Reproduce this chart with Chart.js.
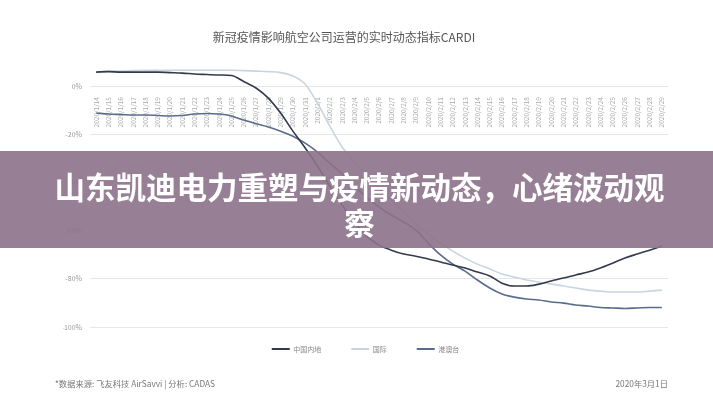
<!DOCTYPE html>
<html>
<head>
<meta charset="utf-8">
<script src="https://cdn.jsdelivr.net/npm/chart.js@4.4.1/dist/chart.umd.min.js"></script>
<style>
  html, body { margin: 0; padding: 0; background: #fff; }
  #wrap { position: relative; width: 713px; height: 400px; overflow: hidden;
          font-family: "Noto Sans CJK SC", "Noto Sans", sans-serif; }
  #chart { position: absolute; left: 0; top: 0; }
  .title { position: absolute; top: 28px; left: 0; width: 688px; text-align: center;
           font-size: 12px; color: #555; }
  .source { position: absolute; top: 377px; left: 55px; font-size: 8.3px; color: #777; }
  .date { position: absolute; top: 377px; right: 45px; font-size: 8.3px; color: #777; }
  .banner { position: absolute; left: 0; top: 151px; width: 713px; height: 97px;
            background: rgba(140, 114, 138, 0.9); }
  .banner div { position: absolute; left: 52px; right: 46px; top: 17px; text-align: center;
                color: #fff; font-size: 30.5px; line-height: 36px; font-weight: 700; }
</style>
</head>
<body>
<div id="wrap">
  <canvas id="chart" width="713" height="400"></canvas>
  <div class="title">新冠疫情影响航空公司运营的实时动态指标CARDI</div>
  <div class="source">*数据来源: 飞友科技 AirSavvi | 分析: CADAS</div>
  <div class="date">2020年3月1日</div>
  <div class="banner"><div>山东凯迪电力重塑与疫情新动态，心绪波动观察</div></div>
</div>
<script>
const dates = [
  '2020/1/14', '2020/1/15', '2020/1/16', '2020/1/17', '2020/1/18', '2020/1/19', '2020/1/20',
  '2020/1/21', '2020/1/22', '2020/1/23', '2020/1/24', '2020/1/25', '2020/1/26', '2020/1/27',
  '2020/1/28', '2020/1/29', '2020/1/30', '2020/1/31', '2020/2/1', '2020/2/2', '2020/2/3',
  '2020/2/4', '2020/2/5', '2020/2/6', '2020/2/7', '2020/2/8', '2020/2/9', '2020/2/10',
  '2020/2/11', '2020/2/12', '2020/2/13', '2020/2/14', '2020/2/15', '2020/2/16', '2020/2/17',
  '2020/2/18', '2020/2/19', '2020/2/20', '2020/2/21', '2020/2/22', '2020/2/23', '2020/2/24',
  '2020/2/25', '2020/2/26', '2020/2/27', '2020/2/28', '2020/2/29'
];

// 中国内地
const mainland = [5.8, 6.0, 5.8, 5.8, 5.8, 5.8, 5.6, 5.4, 5.0, 4.8, 4.6, 4.4, 1.9, -0.8, -5.0,
  -11.2, -18.7, -25.7, -33.2, -41.5, -49.4, -56.4, -62.3, -66.0, -68.1, -69.7, -70.6, -71.8,
  -73.0, -74.3, -75.5, -77.2, -78.8, -81.8, -83.0, -83.0, -82.2, -80.9, -79.7, -78.4, -77.2,
  -75.5, -73.5, -71.4, -69.7, -68.1, -66.4];
// 国际
const international = [5.8, 6.2, 6.2, 6.4, 6.6, 6.6, 6.6, 6.6, 6.6, 6.6, 6.6, 6.6, 6.4, 6.2, 6.0,
  5.6, 4.2, 0.8, -7.1, -16.6, -25.3, -31.5, -36.9, -42.3, -47.3, -52.3, -57.3, -61.4, -65.2,
  -68.5, -71.4, -73.9, -75.9, -78.0, -79.3, -80.5, -81.3, -82.2, -83.0, -83.8, -84.7, -85.1,
  -85.5, -85.5, -85.5, -85.1, -84.7];
// 港澳台
const hkMacauTw = [-11.2, -11.6, -11.8, -12.0, -12.0, -12.2, -12.4, -12.2, -11.6, -11.4, -11.6,
  -12.4, -14.1, -15.6, -17.0, -18.7, -20.8, -23.7, -27.4, -32.0, -36.5, -41.5, -46.1, -50.2,
  -53.5, -56.4, -59.8, -65.2, -70.1, -73.9, -76.8, -80.5, -83.8, -86.3, -87.6, -88.4, -88.8,
  -89.6, -90.1, -90.9, -91.3, -91.9, -92.1, -92.3, -92.1, -91.9, -91.9];

const yTicks = [0, -20, -40, -60, -80, -100];

Chart.defaults.font.family = "'Noto Sans CJK SC', 'Noto Sans', sans-serif";

// pull the legend up a bit, its vertical padding is the same as the item gap
const legendShift = {
  id: 'legendShift',
  afterLayout(chart) {
    chart.legend.top -= 11.5;
    chart.legend.bottom -= 11.5;
  }
};

function line(label, data, color) {
  return {
    label: label,
    data: data,
    borderColor: color,
    backgroundColor: color,
    borderWidth: 1.6,
    pointRadius: 0,
    cubicInterpolationMode: 'monotone'
  };
}

new Chart(document.getElementById('chart'), {
  type: 'line',
  data: {
    labels: dates,
    datasets: [
      line('中国内地', mainland, '#333a4b'),
      line('国际', international, '#c8d5df'),
      line('港澳台', hkMacauTw, '#5a6c8c')
    ]
  },
  options: {
    responsive: false,
    animation: false,
    layout: { padding: { left: 63, right: 45, top: 62, bottom: 26 } },
    scales: {
      x: {
        position: { y: 0 },
        offset: true,
        grid: { display: false },
        border: { display: false },
        ticks: { autoSkip: false, minRotation: 90, maxRotation: 90, padding: 3,
                 color: '#aaa', font: { size: 6.5 } }
      },
      y: {
        min: -100,
        max: 10,
        afterBuildTicks: s => { s.ticks = yTicks.map(v => ({ value: v })); },
        afterFit: s => { s.width = 27; },
        grid: { color: '#e6e6e6', drawTicks: false },
        border: { display: false },
        ticks: { padding: 8, color: '#999', font: { size: 7 }, callback: v => v + '%' }
      }
    },
    plugins: {
      legend: {
        position: 'bottom',
        labels: {
          boxWidth: 18,
          boxHeight: 2,
          padding: 30,
          color: '#888',
          font: { size: 7 },
          generateLabels: ch => Chart.defaults.plugins.legend.labels.generateLabels(ch)
            .map(l => Object.assign(l, { lineWidth: 0 }))
        }
      },
      tooltip: { enabled: false }
    }
  },
  plugins: [legendShift]
});
</script>
</body>
</html>
